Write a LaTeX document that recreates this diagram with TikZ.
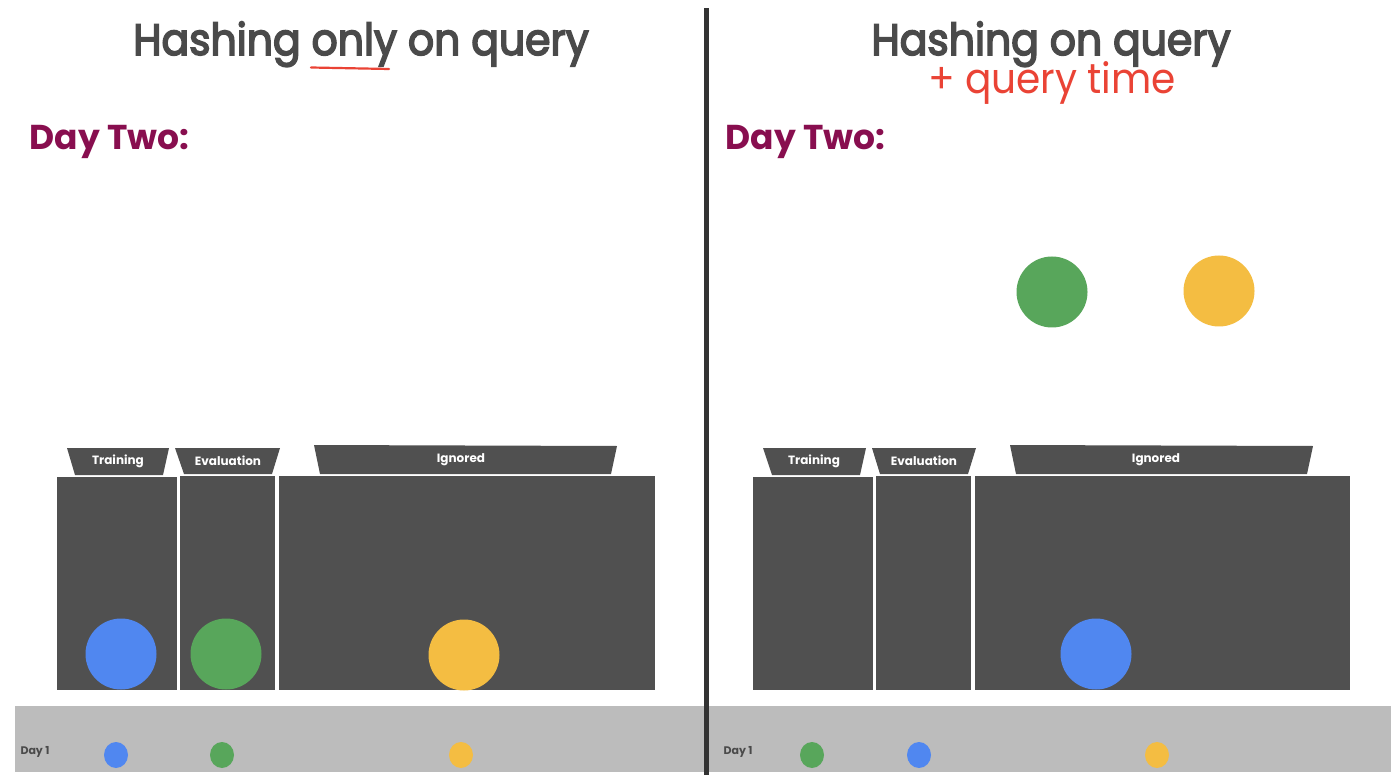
\documentclass[tikz,border=0pt]{standalone}
\usepackage{fontspec}
\usetikzlibrary{shapes.geometric}
\setmainfont{Poppins}
\newfontfamily\titlefont{Poppins}[FakeStretch=0.93]
\newfontfamily\subfont{Poppins}[FakeStretch=0.93]
% outline the glyphs in their own colour to give a medium weight
\newcommand\medweight[1]{\special{pdf:literal direct 2 Tr 1.6 w}#1\special{pdf:literal direct 0 Tr 0.4 w}}
\definecolor{inkgray}{HTML}{4A4A4A}
\definecolor{slab}{HTML}{505050}
\definecolor{strip}{HTML}{BCBCBC}
\definecolor{divider}{HTML}{333333}
\definecolor{accent}{HTML}{EA4335}
\definecolor{dayred}{HTML}{880E4F}
\definecolor{gblue}{HTML}{5087F0}
\definecolor{ggreen}{HTML}{58A65B}
\definecolor{gyellow}{HTML}{F4BD42}
\begin{document}
\begin{tikzpicture}[x=1pt,y=-1pt,
  title/.style={anchor=base,text=inkgray,font=\fontsize{44}{48}\selectfont\titlefont},
  subtitle/.style={anchor=base,text=accent,font=\fontsize{42}{46}\selectfont\subfont},
  daylabel/.style={anchor=base west,text=dayred,font=\fontsize{34.5}{38}\selectfont\bfseries},
  tablabel/.style={text=white,font=\fontsize{12}{14}\selectfont\bfseries},
  smalllabel/.style={anchor=base west,text=inkgray,font=\fontsize{11}{13}\selectfont\bfseries},
  slabbox/.style={fill=slab},
  tabshape/.style={fill=slab},
  ball/.style={circle,inner sep=0pt,minimum size=71pt},
  dot/.style={ellipse,inner sep=0pt,minimum width=24pt,minimum height=26pt},
]
\useasboundingbox (0,0) rectangle (1391,775);
\fill[white] (0,0) rectangle (1391,775);

% ---------- day-one strip ----------
\fill[strip] (15,706) rectangle (1391,772);

% ---------- left panel ----------
\node[title] (ltitle) at (361,55) {\medweight{Hashing only on query}};
\draw[accent,line width=2.2pt,line cap=round] (311,67.5) .. controls (350,68.5) .. (389,69);
\node[daylabel] (lday) at (26,150) {Day Two:};

\fill[slabbox] (57,477) rectangle (177,690);
\fill[slabbox] (180,476) rectangle (275,690);
\fill[slabbox] (279,476) rectangle (655,690);

\fill[tabshape] (67,448) -- (169,448) -- (163,475) -- (75,475) -- cycle;
\fill[tabshape] (175,448) -- (280,448) -- (272,474) -- (184,474) -- cycle;
\fill[tabshape] (314,445) -- (617,446) -- (611,474) -- (320,474) -- cycle;
\node[tablabel] (ltrain) at (118,461) {Training};
\node[tablabel] (leval) at (228,461) {Evaluation};
\node[tablabel] (lign) at (461,460) {Ignored};

\node[ball,fill=gblue] (lblue) at (121,654) {};
\node[ball,fill=ggreen] (lgreen) at (226,654) {};
\node[ball,fill=gyellow] (lyellow) at (464,655) {};

\node[smalllabel] (lday1) at (17,754) {Day 1};
\node[dot,fill=gblue] (lblue1) at (116,755) {};
\node[dot,fill=ggreen] (lgreen1) at (222,755) {};
\node[dot,fill=gyellow] (lyellow1) at (461,755) {};

% ---------- right panel ----------
\node[title] (rtitle) at (1051,55) {\medweight{Hashing on query}};
\node[subtitle] (rsub) at (1052,94) {+ query time};
\node[daylabel] (rday) at (722,150) {Day Two:};

\node[ball,fill=ggreen] (rgreenup) at (1052,292) {};
\node[ball,fill=gyellow] (ryellowup) at (1219,291) {};

\fill[slabbox] (753,477) rectangle (873,690);
\fill[slabbox] (876,476) rectangle (971,690);
\fill[slabbox] (975,476) rectangle (1350,690);

\fill[tabshape] (763,448) -- (866,448) -- (860,475) -- (772,475) -- cycle;
\fill[tabshape] (872,448) -- (976,448) -- (968,474) -- (880,474) -- cycle;
\fill[tabshape] (1010,445) -- (1313,446) -- (1307,474) -- (1016,474) -- cycle;
\node[tablabel] (rtrain) at (814,461) {Training};
\node[tablabel] (reval) at (924,461) {Evaluation};
\node[tablabel] (rign) at (1156,460) {Ignored};

\node[ball,fill=gblue] (rblue) at (1096,654) {};

\node[smalllabel] (rday1) at (720,754) {Day 1};
\node[dot,fill=ggreen] (rgreen1) at (812,755) {};
\node[dot,fill=gblue] (rblue1) at (919,755) {};
\node[dot,fill=gyellow] (ryellow1) at (1157,755) {};

% ---------- divider ----------
\fill[divider] (703.5,8) rectangle (708.5,775);
\end{tikzpicture}
\end{document}
